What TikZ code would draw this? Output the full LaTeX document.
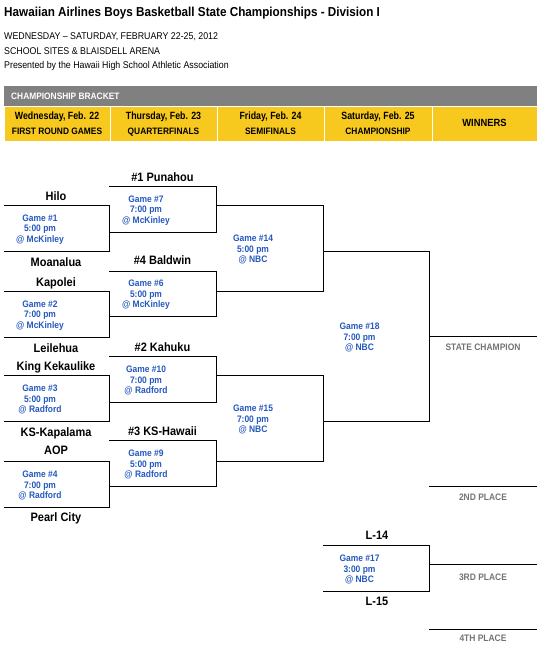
\documentclass[tikz,border=0pt]{standalone}
\usepackage{fontspec}
\setmainfont{Liberation Sans}[FakeStretch=0.9]
\newfontfamily\hdfont{Liberation Sans}[FakeStretch=0.84]
\definecolor{gblue}{RGB}{35,88,190}
\definecolor{lgray}{RGB}{115,115,115}
\definecolor{hgray}{RGB}{128,128,128}
\definecolor{hyellow}{RGB}{247,201,30}
\newcommand\gamebox[6]{%
  \node[gb, minimum width=#4pt, minimum height=#5pt] (#1) at (#2,#3) {};
  \draw[bline] (#1.north west) -- (#1.north east) -- (#1.south east) -- (#1.south west);
  \node[gt] (#1t) at ([shift={(-16.5,1.5)}]#1.center) {#6};}
\begin{document}
\begin{tikzpicture}[x=1pt,y=-1pt,
  bline/.style={line width=1pt, draw=black},
  gb/.style={inner sep=0pt, outer sep=0pt, draw=none},
  tm/.style={font=\fontsize{12.2}{14}\selectfont\bfseries, anchor=base, inner sep=0pt},
  gt/.style={font=\fontsize{9.4}{10.4}\selectfont\bfseries, text=gblue, align=center, inner sep=0pt},
  pl/.style={font=\fontsize{9.4}{11}\selectfont\bfseries, text=lgray, anchor=base, inner sep=0pt},
  cell/.style={fill=hyellow, draw=white, line width=1pt, inner sep=0pt, outer sep=0pt, minimum height=34pt},
  hl1/.style={font=\hdfont\fontsize{10.5}{12}\selectfont\bfseries, anchor=base, inner sep=0pt},
  hl2/.style={font=\fontsize{9.3}{11}\selectfont\bfseries, anchor=base, inner sep=0pt},
  tl/.style={anchor=base west, inner sep=0pt}]
\useasboundingbox (0,0) rectangle (550,650);
% titles
\node[tl, font=\fontsize{13}{15}\selectfont\bfseries] (title) at (4,17) {Hawaiian Airlines Boys Basketball State Championships - Division I};
\node[tl, font=\fontsize{9.8}{12}\selectfont] (sub1) at (4,39.5) {WEDNESDAY – SATURDAY, FEBRUARY 22-25, 2012};
\node[tl, font=\fontsize{9.8}{12}\selectfont] (sub2) at (4,54.5) {SCHOOL SITES \& BLAISDELL ARENA};
\node[tl, font=\fontsize{9.8}{12}\selectfont] (sub3) at (4,69) {Presented by the Hawaii High School Athletic Association};
% header
\node[fill=hgray, inner sep=0pt, outer sep=0pt, minimum width=533pt, minimum height=20pt] (bar) at (270.5,96) {};
\node[anchor=west, inner sep=0pt, text=white, font=\fontsize{9.3}{11}\selectfont\bfseries] (bartxt) at (11,96) {CHAMPIONSHIP BRACKET};
\node[cell, minimum width=106pt] (c1) at (57,124) {};
\node[cell, minimum width=107pt] (c2) at (163.5,124) {};
\node[cell, minimum width=107pt] (c3) at (270.5,124) {};
\node[cell, minimum width=108pt] (c4) at (378,124) {};
\node[cell, minimum width=105pt] (c5) at (484.5,124) {};
\node[hl1] (c1a) at (57,119.5) {Wednesday, Feb. 22};
\node[hl2] (c1b) at (57,134.5) {FIRST ROUND GAMES};
\node[hl1] (c2a) at (163.5,119.5) {Thursday, Feb. 23};
\node[hl2] (c2b) at (163.5,134.5) {QUARTERFINALS};
\node[hl1] (c3a) at (270.5,119.5) {Friday, Feb. 24};
\node[hl2] (c3b) at (270.5,134.5) {SEMIFINALS};
\node[hl1] (c4a) at (378,119.5) {Saturday, Feb. 25};
\node[hl2] (c4b) at (378,134.5) {CHAMPIONSHIP};
\node[hl1, font=\fontsize{10.4}{12}\selectfont\bfseries] (c5a) at (484.5,127) {WINNERS};
% bracket boxes
\gamebox{g1}{56.5}{228}{105}{46}{Game \#1\\5:00 pm\\@ McKinley}
\gamebox{g2}{56.5}{314}{105}{46}{Game \#2\\7:00 pm\\@ McKinley}
\gamebox{g3}{56.5}{398}{105}{46}{Game \#3\\5:00 pm\\@ Radford}
\gamebox{g4}{56.5}{484}{105}{46}{Game \#4\\7:00 pm\\@ Radford}
\gamebox{g7}{162.5}{209}{107}{46}{Game \#7\\7:00 pm\\@ McKinley}
\gamebox{g6}{162.5}{293.5}{107}{45}{Game \#6\\5:00 pm\\@ McKinley}
\gamebox{g10}{162.5}{379}{107}{46}{Game \#10\\7:00 pm\\@ Radford}
\gamebox{g9}{162.5}{463}{107}{46}{Game \#9\\5:00 pm\\@ Radford}
\gamebox{g14}{269.5}{248}{107}{86}{Game \#14\\5:00 pm\\@ NBC}
\gamebox{g15}{269.5}{418}{107}{86}{Game \#15\\7:00 pm\\@ NBC}
\gamebox{g18}{376}{336}{106}{170}{Game \#18\\7:00 pm\\@ NBC}
\gamebox{g17}{376}{568}{106}{46}{Game \#17\\3:00 pm\\@ NBC}
% team names
\node[tm] (hilo) at (56,200.5) {Hilo};
\node[tm] (moan) at (56,266.5) {Moanalua};
\node[tm] (kapo) at (56,286.5) {Kapolei};
\node[tm] (leil) at (56,352.5) {Leilehua};
\node[tm] (king) at (56,370.5) {King Kekaulike};
\node[tm] (ksk) at (56,436.5) {KS-Kapalama};
\node[tm] (aop) at (56,454.5) {AOP};
\node[tm] (pearl) at (56,521.5) {Pearl City};
\node[tm] (puna) at (162.5,181.5) {\#1 Punahou};
\node[tm] (bald) at (162.5,264.5) {\#4 Baldwin};
\node[tm] (kahu) at (162.5,351.5) {\#2 Kahuku};
\node[tm] (ksh) at (162.5,435.5) {\#3 KS-Hawaii};
\node[tm] (l14) at (377,539.5) {L-14};
\node[tm] (l15) at (377,605.5) {L-15};
% winners lines
\coordinate (champ) at (537,336);
\draw[bline] (g18.east) -- (champ);
\coordinate (p2a) at (429,486);
\coordinate (p2b) at (537,486);
\draw[bline] (p2a) -- (p2b);
\coordinate (p3a) at (429,564);
\coordinate (p3b) at (537,564);
\draw[bline] (p3a) -- (p3b);
\coordinate (p4a) at (429,629);
\coordinate (p4b) at (537,629);
\draw[bline] (p4a) -- (p4b);
\node[pl] (lchamp) at (483,350.5) {STATE CHAMPION};
\node[pl] (l2) at (483,500.5) {2ND PLACE};
\node[pl] (l3) at (483,580.5) {3RD PLACE};
\node[pl] (l4) at (483,641.5) {4TH PLACE};
\end{tikzpicture}
\end{document}
